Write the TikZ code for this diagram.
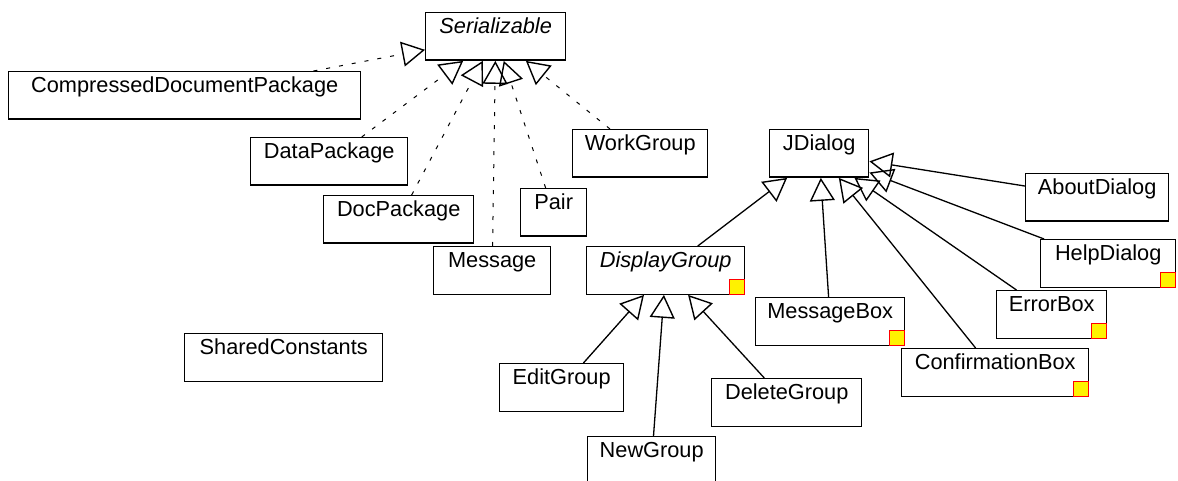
\documentclass[tikz,border=0pt]{standalone}
\usepackage{fontspec}
\setmainfont{Liberation Sans}
\usetikzlibrary{arrows.meta}
\begin{document}
\begin{tikzpicture}[x=1pt,y=-1pt,
  cls/.style={draw, line width=1.4pt, inner sep=0pt, anchor=north west,
    text height=21pt, text depth=26.5pt, font=\fontsize{21.75}{26}\selectfont},
  ysq/.style={draw=red, fill=yellow, line width=1pt, inner sep=0pt,
    minimum width=15pt, minimum height=15pt, anchor=south east},
  inh/.style={line width=1.3pt, -{Triangle[open,length=23pt,width=25pt,line width=1.4pt]}},
  real/.style={inh, line width=1pt, dash pattern=on 4pt off 9pt}
]
\useasboundingbox (0,0) rectangle (1178,481);

\node[cls, minimum width=140pt] (ser) at (425,12) {\textit{Serializable}};
\node[cls, minimum width=352pt] (cdp) at (8,71) {CompressedDocumentPackage};
\node[cls, minimum width=157pt] (dp) at (250,137) {DataPackage};
\node[cls, minimum width=150pt] (doc) at (323,195) {DocPackage};
\node[cls, minimum width=66pt] (pair) at (520,188) {Pair};
\node[cls, minimum width=135pt] (wg) at (572,129) {WorkGroup};
\node[cls, minimum width=117pt] (msg) at (433,246) {Message};
\node[cls, minimum width=198pt] (sc) at (184,333) {SharedConstants};
\node[cls, minimum width=99pt] (jd) at (769,129) {JDialog};
\node[cls, minimum width=143pt] (ad) at (1025,173) {AboutDialog};
\node[cls, minimum width=135pt] (hd) at (1040,239) {HelpDialog};
\node[cls, minimum width=158pt] (dg) at (586,246) {\textit{DisplayGroup}};
\node[cls, minimum width=149pt] (mb) at (755,297) {MessageBox};
\node[cls, minimum width=110pt] (eb) at (996,290) {ErrorBox};
\node[cls, minimum width=187pt] (cb) at (901,348) {ConfirmationBox};
\node[cls, minimum width=124pt] (eg) at (499,363) {EditGroup};
\node[cls, minimum width=150pt] (del) at (711,378) {DeleteGroup};
\node[cls, minimum width=128pt] (ng) at (587,436) {NewGroup};

\node[ysq] (hdsq) at (hd.south east) {};
\node[ysq] (dgsq) at (dg.south east) {};
\node[ysq] (mbsq) at (mb.south east) {};
\node[ysq] (ebsq) at (eb.south east) {};
\node[ysq] (cbsq) at (cb.south east) {};

\draw[real] (cdp) -- (ser);
\draw[real] (dp) -- (ser);
\draw[real] (doc) -- (ser);
\draw[real] (msg) -- (ser);
\draw[real] (pair) -- (ser);
\draw[real] (wg) -- (ser);

\draw[inh] (dg) -- (jd);
\draw[inh] (mb) -- (jd);
\draw[inh] (cb) -- (jd);
\draw[inh] (eb) -- (jd);
\draw[inh] (hd) -- (jd);
\draw[inh] (ad) -- (jd);

\draw[inh] (eg) -- (dg);
\draw[inh] (ng) -- (dg);
\draw[inh] (del) -- (dg);
\end{tikzpicture}
\end{document}
